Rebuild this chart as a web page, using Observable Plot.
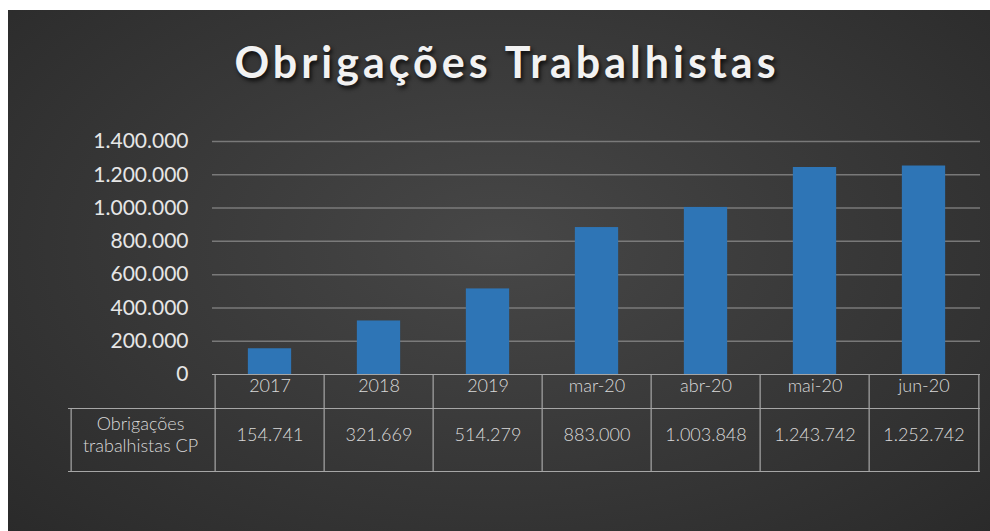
<!DOCTYPE html>
<html><head><meta charset="utf-8">
<script src="https://cdn.jsdelivr.net/npm/d3@7"></script>
<script src="https://cdn.jsdelivr.net/npm/@observablehq/plot@0.6"></script>
<style>
  html,body{margin:0;padding:0;background:#fff;}
  #wrap{position:absolute;left:8px;top:10px;width:982px;height:521px;overflow:hidden;
    background: radial-gradient(ellipse 70% 80% at 50% 45%, #474747 0%, #3a3a3a 45%, #2a2a2a 100%);}
  #title{position:absolute;left:8px;top:26px;width:982px;text-align:center;font-family:Lato,"Open Sans",sans-serif;
    font-weight:bold;font-size:43px;letter-spacing:4px;color:#f2f2f2;text-shadow:2px 3px 4px rgba(0,0,0,0.75);}
  #chart{position:absolute;left:0;top:0;}
</style></head>
<body>
<div id="wrap"><div id="chart"></div><div id="title">Obrigações Trabalhistas</div></div>
<script>
const categories = ["2017","2018","2019","mar-20","abr-20","mai-20","jun-20"];
const values = [154741, 321669, 514279, 883000, 1003848, 1243742, 1252742];
const yTicks = [0,200000,400000,600000,800000,1000000,1200000,1400000];
const seriesLabel = ["Obrigações","trabalhistas CP"];

const data = categories.map((c,i)=>({cat:c, value:values[i]}));
const ptBR = d3.formatLocale({decimal:",", thousands:".", grouping:[3], currency:["R$",""]});
const fmt = ptBR.format(",d");

const W = 982, H = 521, ML = 204, MR = 10, MT = 131, MB = 157;
const step = (W - ML - MR) / categories.length;
const plotH = H - MT - MB;
const rowA = 34, rowB = 97, labelW = 144;
const lineColor = "#a6a6a6";
const txt = "#d9d9d9";

const chart = Plot.plot({
  width: W, height: H,
  marginLeft: ML, marginRight: MR, marginTop: MT, marginBottom: MB,
  style: {background:"transparent", color: txt, fontFamily:"Lato, 'Open Sans', sans-serif"},
  x: {type:"band", domain: categories, padding: 0, axis: null},
  y: {domain:[0,1400000], ticks: yTicks, tickFormat: d => fmt(d), label: null},
  marks: [
    Plot.gridY(yTicks.filter(d=>d>0), {stroke:"#8a8a8a", strokeOpacity:0.8, strokeWidth:1.5}),
    Plot.axisY(yTicks, {tickSize:0, tickPadding:24, fontSize:21, fill:"#e6e6e6", tickFormat: d=>fmt(d), label: null}),
    Plot.barY(data, {x:"cat", y:"value", fill:"#2E75B6", insetLeft:(step-44)/2, insetRight:(step-44)/2}),
    // table horizontal lines
    Plot.ruleY([0], {stroke:lineColor, strokeWidth:1.2}),
    Plot.ruleY([0], {stroke:lineColor, strokeWidth:1.2, dy:rowA, insetLeft:-labelW}),
    Plot.ruleY([0], {stroke:lineColor, strokeWidth:1.2, dy:rowB, insetLeft:-labelW}),
    // table vertical lines
    Plot.ruleX(categories, {x:d=>d, dx:-step/2, stroke:lineColor, strokeWidth:1.2, insetTop:plotH, insetBottom:-rowB}),
    Plot.ruleX([categories[categories.length-1]], {x:d=>d, dx:step/2, stroke:lineColor, strokeWidth:1.2, insetTop:plotH, insetBottom:-rowB}),
    Plot.ruleX([categories[0]], {x:d=>d, dx:-step/2-labelW, stroke:lineColor, strokeWidth:1.2, insetTop:plotH+rowA, insetBottom:-rowB}),
    // table text
    Plot.text(categories, {x:d=>d, frameAnchor:"bottom", dy:17, text:d=>d, fontSize:18, fontWeight:300, fill:txt, letterSpacing:"0.5px"}),
    Plot.text(data, {x:"cat", frameAnchor:"bottom", dy:66, text:d=>fmt(d.value), fontSize:18, fontWeight:300, fill:txt, letterSpacing:"0.5px"}),
    Plot.text([seriesLabel[0]], {frameAnchor:"bottom-left", dx:-labelW/2, dy:55, text:d=>d, fontSize:18, fontWeight:300, fill:txt, textAnchor:"middle"}),
    Plot.text([seriesLabel[1]], {frameAnchor:"bottom-left", dx:-labelW/2, dy:77, text:d=>d, fontSize:18, fontWeight:300, fill:txt, textAnchor:"middle"})
  ]
});
document.getElementById("chart").appendChild(chart);
</script>
</body></html>
